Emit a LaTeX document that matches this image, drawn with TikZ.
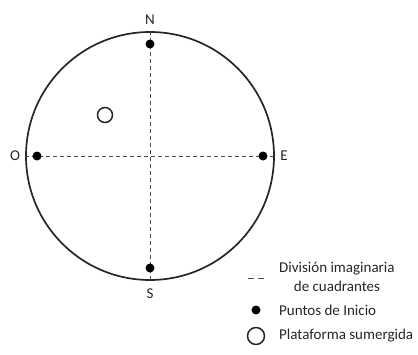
\documentclass[tikz,border=0pt]{standalone}
\usepackage{fontspec}
\setmainfont{Carlito}
\begin{document}
\begin{tikzpicture}[x=1pt,y=-1pt,
  arena/.style={draw=black!85,line width=1.7pt},
  divline/.style={draw=black!70,dashed,line width=0.9pt,dash pattern=on 4pt off 3pt},
  startpt/.style={circle,fill=black,inner sep=0pt,minimum size=9pt},
  platform/.style={circle,draw=black!85,line width=1.5pt,inner sep=0pt,minimum size=15pt},
  lbl/.style={font=\fontsize{15}{17}\selectfont,text=black!85,inner sep=0pt},
  leg/.style={font=\fontsize{15}{19}\selectfont,text=black!85,inner sep=0pt,anchor=west}]
\useasboundingbox (0,0) rectangle (418,354);
\node[circle,minimum size=248pt,inner sep=0pt,arena] (arena) at (150,156) {};
\draw[divline] (arena.north) -- (arena.south);
\draw[divline] (arena.west) -- (arena.east);
\node[startpt] (pn) at (150,44) {};
\node[startpt] (ps) at (150,268) {};
\node[startpt] (po) at (37,156) {};
\node[startpt] (pe) at (263,156) {};
\node[platform] (plat) at (105,115) {};
\node[lbl] (ln) at (150,20) {N};
\node[lbl] (ls) at (150,294) {S};
\node[lbl] (lo) at (15,156) {O};
\node[lbl] (le) at (284,156) {E};
% legend
\coordinate (la) at (248,278);
\coordinate (lb) at (264,278);
\draw[divline,dash pattern=on 6pt off 4pt] (la) -- (lb);
\node[leg,align=center,anchor=west] (tdiv) at (279,277) {División imaginaria\\de cuadrantes};
\node[startpt,minimum size=9pt] (kdot) at (256,310) {};
\node[leg] (tdot) at (279,310) {Puntos de Inicio};
\node[platform,minimum size=17pt] (kplat) at (256,336) {};
\node[leg] (tplat) at (279,336) {Plataforma sumergida};
\end{tikzpicture}
\end{document}
